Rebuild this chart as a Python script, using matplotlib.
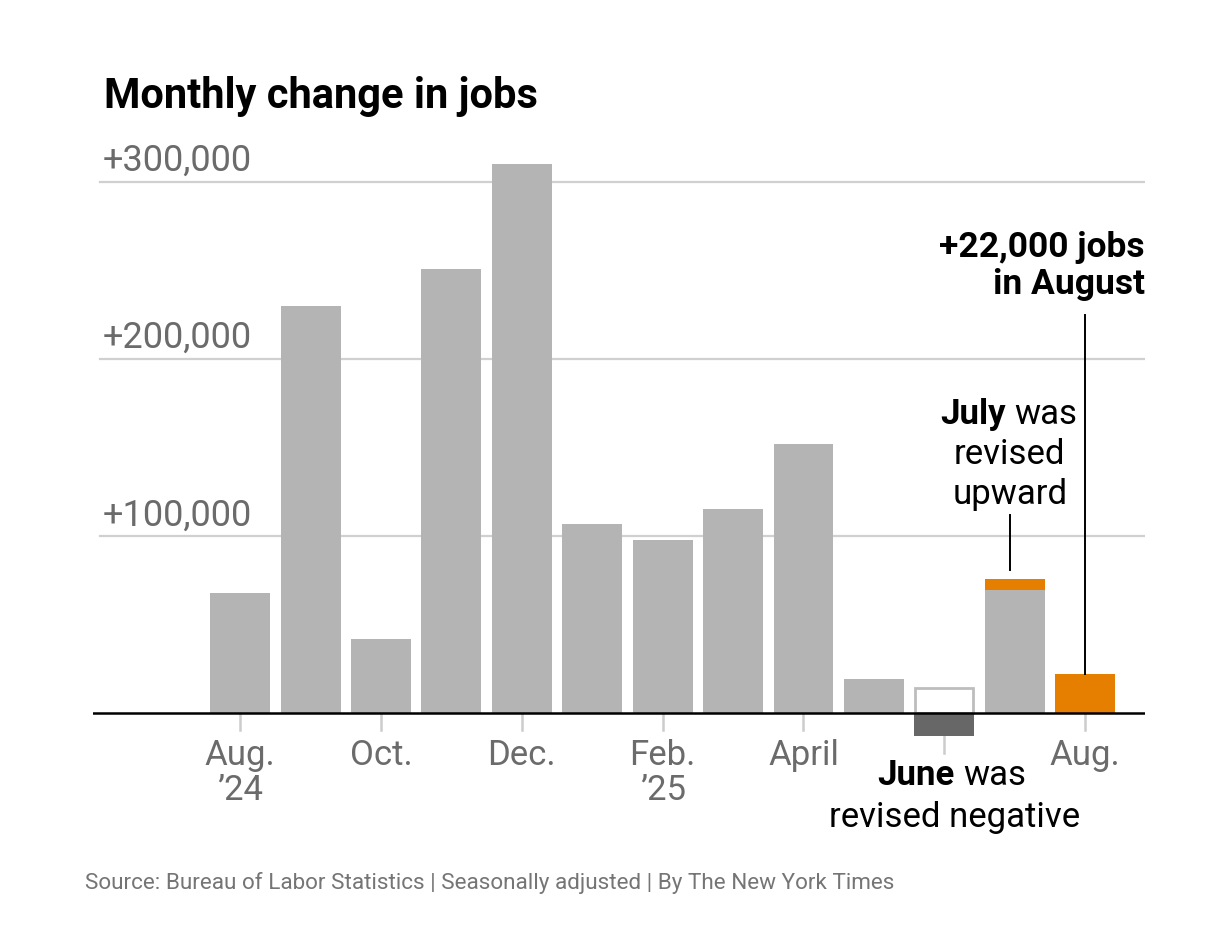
import matplotlib.pyplot as plt

plt.rcParams['font.family'] = ['Roboto', 'DejaVu Sans']

# monthly change in jobs, thousands (Aug 2024 .. Aug 2025)
months = ['Aug24', 'Sep24', 'Oct24', 'Nov24', 'Dec24', 'Jan25', 'Feb25',
          'Mar25', 'Apr25', 'May25', 'Jun25', 'Jul25', 'Aug25']
values = [68, 230, 42, 251, 310, 107, 98, 115, 152, 19, -13, 69.5, 22]
june_before = 14      # June as first reported
july_revised = 76     # July after revision
tick_idx = [0, 2, 4, 6, 8, 10, 12]
tick_labels = ['Aug.\n\u201924', 'Oct.', 'Dec.', 'Feb.\n\u201925', 'April', '', 'Aug.']
grid_vals = [100, 200, 300]
grid_labels = ['+100,000', '+200,000', '+300,000']

GRAY = '#b4b4b4'
ORANGE = '#e67f00'
DARK = '#676767'
LABEL = '#6b6b6b'
FS = 25

fig = plt.figure(figsize=(12.26, 9.36), dpi=100)
ax = fig.add_axes([93 / 1226, 176 / 936, 1052 / 1226, 620 / 936])
ax.set_xlim(-2.09, 12.85)
ax.set_ylim(-26.5, 323.7)
ax.axis('off')

x = list(range(len(months)))
w = 0.85

# gridlines and y labels
for v, lab in zip(grid_vals, grid_labels):
    ax.plot([-1.99, 12.85], [v, v], color='#d0d0d0', lw=1.6, zorder=0)
    ax.annotate(lab, (-1.95, v), xytext=(0, 2), textcoords='offset points',
                ha='left', va='bottom', fontsize=26, color=LABEL)

colors = [GRAY] * len(months)
colors[10] = DARK
colors[12] = ORANGE
ax.bar(x, values, width=w, color=colors, zorder=2)

# June original estimate outline
ax.bar(10, june_before, width=w * 0.97, facecolor='white', edgecolor='#bdbdbd', lw=2, zorder=1)
# July revision on top
ax.bar(11, july_revised - values[11], bottom=values[11], width=w, color=ORANGE, zorder=2)

ax.axhline(0, color='black', lw=1.8, zorder=3)

# x ticks
for i in tick_idx:
    top = min(0, values[i])
    ax.plot([i, i], [top, top - 9.5], color='#cccccc', lw=1.8, zorder=1)
for i, lab in zip(tick_idx, tick_labels):
    ax.text(i, -14.5, lab, ha='center', va='top', fontsize=FS, color=LABEL,
            linespacing=1.1)

# annotations
ax.text(12.85, 257.6, '+22,000 jobs', ha='right', va='baseline', fontsize=25.5, fontweight='bold')
ax.text(12.85, 236.7, 'in August', ha='right', va='baseline', fontsize=25.5, fontweight='bold')
ax.plot([12, 12], [224.9, values[12]], color='black', lw=1.4, zorder=3)

ax.annotate('July', (10.93, 163.3), xytext=(-3, 0), textcoords='offset points',
            ha='right', va='baseline', fontsize=FS, fontweight='bold')
ax.annotate('was', (10.93, 163.3), xytext=(3, 0), textcoords='offset points',
            ha='left', va='baseline', fontsize=FS)
ax.text(10.93, 140.7, 'revised', ha='center', va='baseline', fontsize=FS)
ax.text(10.93, 118.1, 'upward', ha='center', va='baseline', fontsize=FS)
ax.plot([10.93, 10.93], [111.9, 80.8], color='black', lw=1.4, zorder=3)

ax.annotate('June', (10.21, -40.7), xytext=(-3, 0), textcoords='offset points',
            ha='right', va='baseline', fontsize=FS, fontweight='bold', annotation_clip=False)
ax.annotate('was', (10.21, -40.7), xytext=(3, 0), textcoords='offset points',
            ha='left', va='baseline', fontsize=FS, annotation_clip=False)
ax.text(10.14, -64.4, 'revised negative', ha='center', va='baseline', fontsize=FS)

fig.text(104 / 1226, (936 - 108) / 936, 'Monthly change in jobs', fontsize=30,
         fontweight='bold', ha='left', va='baseline')
fig.text(85 / 1226, (936 - 889) / 936,
         'Source: Bureau of Labor Statistics | Seasonally adjusted | By The New York Times',
         fontsize=16.2, color='#757575', ha='left', va='baseline')

fig.savefig('out.png', dpi=100, facecolor='white')
